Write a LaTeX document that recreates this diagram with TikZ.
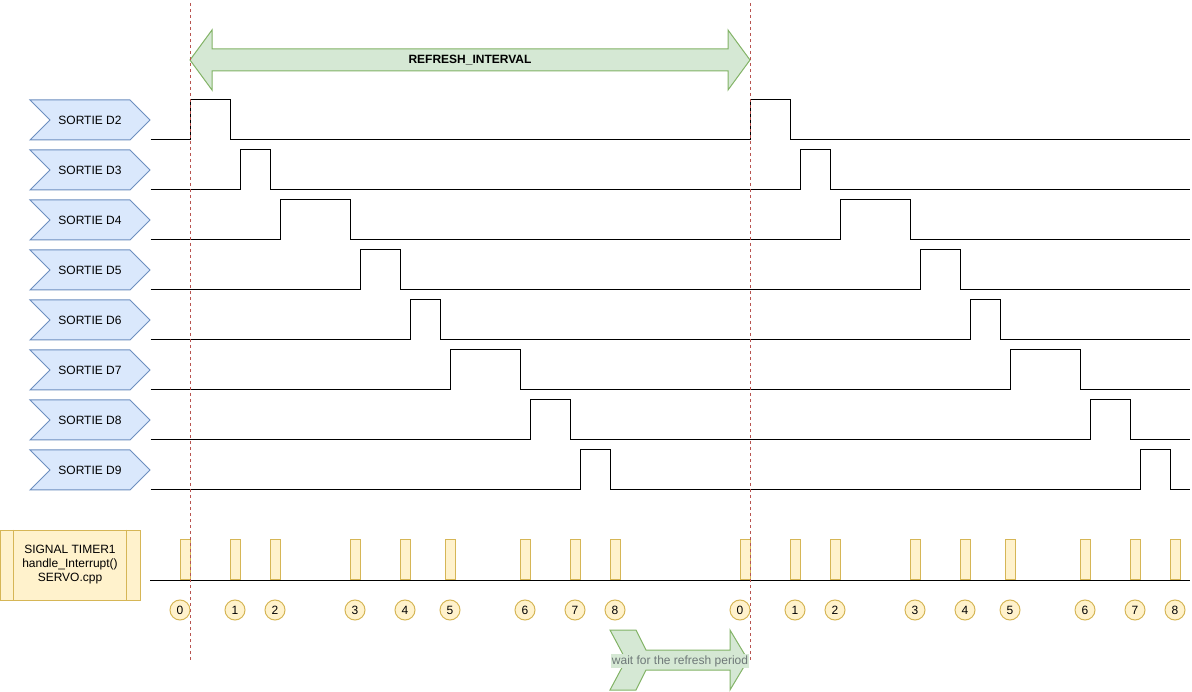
\documentclass[tikz,border=0pt]{standalone}
\usepackage{fontspec}
\setmainfont{Liberation Sans}
\usetikzlibrary{shapes.symbols}

\definecolor{bluefill}{HTML}{DAE8FC}
\definecolor{bluedraw}{HTML}{6C8EBF}
\definecolor{yelfill}{HTML}{FFF2CC}
\definecolor{yeldraw}{HTML}{D6B656}
\definecolor{grnfill}{HTML}{D5E8D4}
\definecolor{grndraw}{HTML}{82B366}
\definecolor{reddash}{HTML}{B85450}
\definecolor{waitgrey}{HTML}{6E7878}

\tikzset{
    sortie/.style={signal, signal from=west, signal to=east, signal pointer angle=90,
        draw=bluedraw, fill=bluefill, minimum width=120pt, minimum height=40pt, inner sep=0pt},
    tickbox/.style={draw=yeldraw, fill=yelfill, minimum width=10pt, minimum height=40pt,
        inner sep=0pt, anchor=south west},
    tickno/.style={circle, draw=yeldraw, fill=yelfill, minimum size=20pt, inner sep=0pt},
    timerbox/.style={draw=yeldraw, fill=yelfill, minimum width=140pt, minimum height=70pt,
        inner sep=0pt, align=center},
    bigarrow/.style={draw=grndraw, fill=grnfill},
    wave/.style={line width=1pt},
    marker/.style={draw=reddash, line width=1pt, dash pattern=on 3pt off 3pt}
}

\begin{document}
\begin{tikzpicture}[x=1pt, y=-1pt, line width=1pt, font=\fontsize{12}{14}\selectfont]
    \useasboundingbox (0,0) rectangle (1192,692);

    \draw[bigarrow] (190,60) -- (212,30) -- (212,49) -- (728,49) -- (728,30) -- (750,60)
        -- (728,90) -- (728,71) -- (212,71) -- (212,90) -- cycle;
    \node[font=\fontsize{12}{14}\selectfont\bfseries] (refresh) at (470,60) {REFRESH\_INTERVAL};

    \foreach \n/\y/\ra/\fa/\rb/\fb in {2/140/190/230/750/790, 3/190/240/270/800/830,
            4/240/280/350/840/910, 5/290/360/400/920/960, 6/340/410/440/970/1000,
            7/390/450/520/1010/1080, 8/440/530/570/1090/1130, 9/490/580/610/1140/1170}
    {
        \node[sortie] (d\n) at (90,\y-20) {SORTIE D\n};
        \draw[wave] (d\n.east |- 0,\y) -- (\ra,\y) -- (\ra,\y-40) -- (\fa,\y-40) -- (\fa,\y)
            -- (\rb,\y) -- (\rb,\y-40) -- (\fb,\y-40) -- (\fb,\y) -- (1190,\y);
    }

    \node[timerbox] (timer) at (70,565) {SIGNAL TIMER1\\handle\_Interrupt()\\SERVO.cpp};
    \draw[draw=yeldraw] ([xshift=14pt]timer.north west) -- ([xshift=14pt]timer.south west);
    \draw[draw=yeldraw] ([xshift=-14pt]timer.north east) -- ([xshift=-14pt]timer.south east);

    \foreach \x/\c/\k [count=\i] in {180/180/0, 230/235/1, 270/275/2, 350/355/3, 400/405/4,
            445/450/5, 520/525/6, 570/575/7, 610/615/8, 740/740/0, 790/795/1, 830/835/2,
            910/915/3, 960/965/4, 1005/1010/5, 1080/1085/6, 1130/1135/7, 1170/1175/8}
    {
        \node[tickbox] (tk\i) at (\x,580) {};
        \node[tickno] (no\i) at (\c,610) {\k};
    }
    \draw[wave] (150,580) -- (1190,580);

    \draw[bigarrow] (610,630) -- (636,630) -- (646,650) -- (730,650) -- (730,630) -- (748,660)
        -- (730,690) -- (730,670) -- (646,670) -- (636,690) -- (610,690) -- (626,660) -- cycle;
    \node[fill=grnfill, text=waitgrey, inner sep=1pt] (wait) at (680,661) {wait for the refresh period};

    \draw[marker] (190,3) -- (190,660);
    \draw[marker] (750,3) -- (750,660);
\end{tikzpicture}
\end{document}
